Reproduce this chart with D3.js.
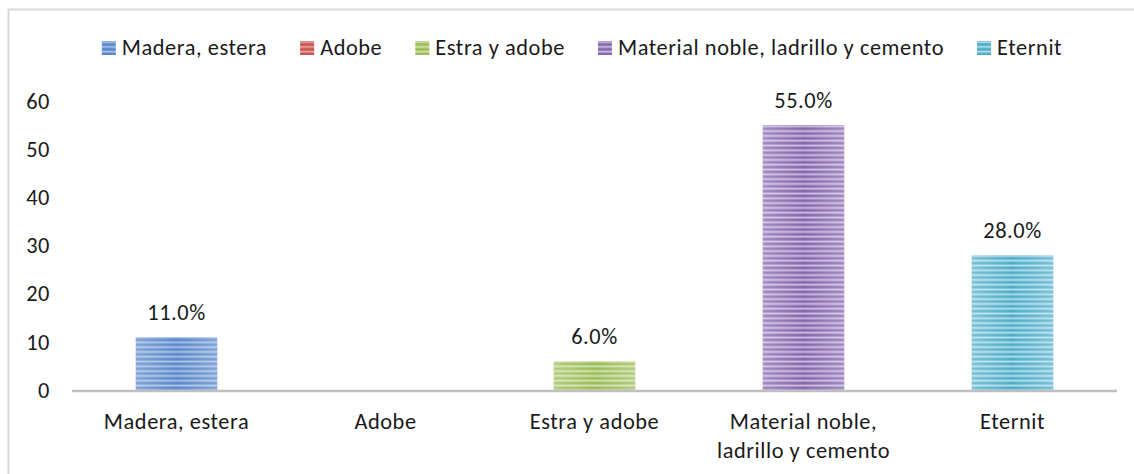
<!DOCTYPE html>
<html>
<head>
<meta charset="utf-8">
<script src="https://cdn.jsdelivr.net/npm/d3@7"></script>
<style>
  html, body { margin: 0; padding: 0; background: #fff; }
  svg { display: block; }
  text { font-family: Carlito, Calibri, Lato, "Liberation Sans", sans-serif; fill: #1a1a1a; letter-spacing: 0.55px; }
</style>
</head>
<body>
<svg id="chart" width="1134" height="474"></svg>
<script>
// Tipo de material de la vivienda (%)
const categories = ["Madera, estera", "Adobe", "Estra y adobe", "Material noble, ladrillo y cemento", "Eternit"];
const values = [11, 0, 6, 55, 28];
const yTicks = [0, 10, 20, 30, 40, 50, 60];
const baseColors = ["#5a87c8", "#c9534f", "#9bbb59", "#8566ad", "#4fadc8"];
const stripeColors = ["#a9c3ea", "#e8a8a6", "#d3e4b0", "#cdbfe3", "#b4e0ee"];

const svg = d3.select("#chart");
const W = 1134, H = 474;
const fontSize = 22.4;

// outer chart frame (runs off the right and bottom edges)
svg.append("rect")
  .attr("x", 8.5).attr("y", 9.5)
  .attr("width", W + 20).attr("height", H + 20)
  .attr("fill", "none").attr("stroke", "#d9d9d9").attr("stroke-width", 2);

// striped fills
const defs = svg.append("defs");
categories.forEach((c, i) => {
  const p = defs.append("pattern")
    .attr("id", "fill" + i)
    .attr("patternUnits", "userSpaceOnUse")
    .attr("width", 8).attr("height", 4.8);
  p.append("rect").attr("width", 8).attr("height", 4.8).attr("fill", baseColors[i]);
  p.append("rect").attr("y", 0.6).attr("width", 8).attr("height", 1.8).attr("fill", stripeColors[i]);
});
// soft horizontal sheen across each bar
const sheen = defs.append("linearGradient").attr("id", "sheen")
  .attr("x1", "0").attr("x2", "1").attr("y1", "0").attr("y2", "0");
sheen.append("stop").attr("offset", "0").attr("stop-color", "#fff").attr("stop-opacity", 0.25);
sheen.append("stop").attr("offset", "0.5").attr("stop-color", "#fff").attr("stop-opacity", 0.0);
sheen.append("stop").attr("offset", "1").attr("stop-color", "#fff").attr("stop-opacity", 0.25);

const plot = { left: 72, right: 1117, top: 101, bottom: 390 };

const x = d3.scaleBand()
  .domain(categories)
  .range([plot.left, plot.right])
  .paddingInner(0.61)
  .paddingOuter(0.305);

const y = d3.scaleLinear()
  .domain([0, 60])
  .range([plot.bottom, plot.top]);

// y axis labels only
const yAxis = svg.append("g")
  .attr("transform", `translate(${50},0)`)
  .call(d3.axisLeft(y).tickValues(yTicks).tickSize(0).tickPadding(0).tickFormat(d3.format("d")));
yAxis.select(".domain").remove();
yAxis.attr("font-family", null).attr("font-size", null);
yAxis.selectAll("text")
  .style("font-size", fontSize + "px")
  .attr("fill", "#1a1a1a");

// bars
const bars = svg.append("g");
categories.forEach((c, i) => {
  if (values[i] <= 0) return;
  bars.append("rect")
    .attr("x", x(c)).attr("y", y(values[i]))
    .attr("width", x.bandwidth()).attr("height", y(0) - y(values[i]))
    .attr("fill", `url(#fill${i})`);
  bars.append("rect")
    .attr("x", x(c)).attr("y", y(values[i]))
    .attr("width", x.bandwidth()).attr("height", y(0) - y(values[i]))
    .attr("fill", "url(#sheen)");
});

// baseline
svg.append("line")
  .attr("x1", plot.left).attr("x2", plot.right)
  .attr("y1", plot.bottom + 1).attr("y2", plot.bottom + 1)
  .attr("stroke", "#bfbfbf").attr("stroke-width", 2.5);

// value labels
svg.append("g").selectAll("text")
  .data(categories.map((c, i) => ({ c, v: values[i] })).filter(d => d.v > 0))
  .join("text")
  .attr("x", d => x(d.c) + x.bandwidth() / 2)
  .attr("y", d => y(d.v) - 17)
  .attr("text-anchor", "middle")
  .style("font-size", fontSize + "px")
  .text(d => d3.format(".1f")(d.v) + "%");

// category labels, wrapped to the band
const xl = svg.append("g");
categories.forEach(c => {
  const cx = x(c) + x.bandwidth() / 2;
  const t = xl.append("text")
    .attr("x", cx)
    .attr("y", 429)
    .attr("text-anchor", "middle")
    .style("font-size", fontSize + "px");
  const words = c.split(" ");
  let line = [];
  let tspan = t.append("tspan").attr("x", cx).attr("dy", 0);
  words.forEach(w => {
    line.push(w);
    tspan.text(line.join(" "));
    if (tspan.node().getComputedTextLength() > 200 && line.length > 1) {
      line.pop();
      tspan.text(line.join(" "));
      line = [w];
      tspan = t.append("tspan").attr("x", cx).attr("dy", 29).text(w);
    }
  });
});

// legend
const legend = svg.append("g");
let lx = 0;
categories.forEach((c, i) => {
  const g = legend.append("g");
  g.append("rect").attr("x", lx).attr("y", -14).attr("width", 14).attr("height", 14)
    .attr("fill", `url(#fill${i})`);
  const t = g.append("text").attr("x", lx + 20).attr("y", 0)
    .style("font-size", fontSize + "px").text(c);
  lx += 20 + t.node().getComputedTextLength() + 33;
});
const legendWidth = lx - 33;
legend.attr("transform", `translate(${582 - legendWidth / 2},55)`);
</script>
</body>
</html>
